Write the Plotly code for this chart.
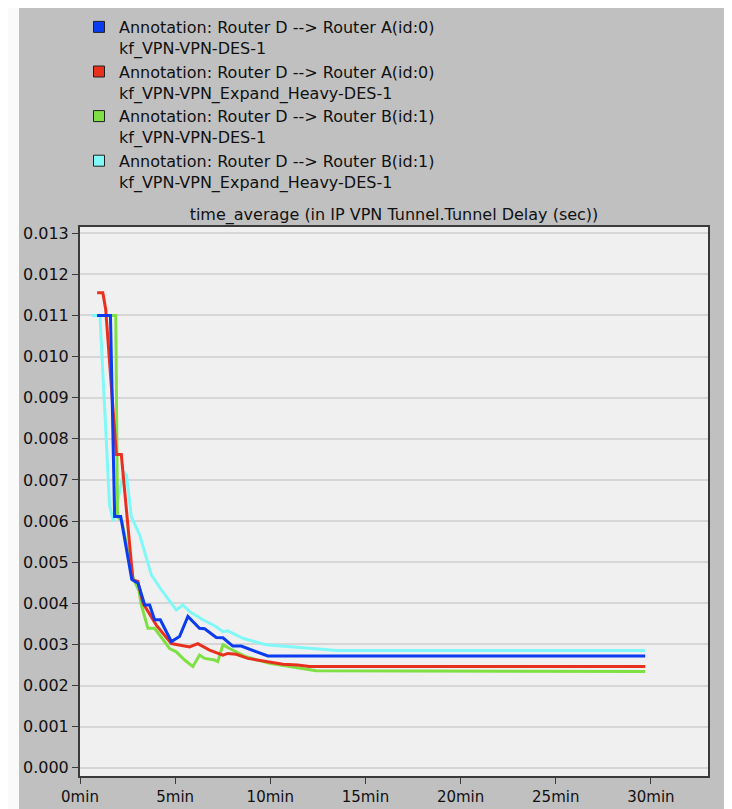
import plotly.graph_objects as go

# ---------------- data ----------------
legend_names = [
    "Annotation: Router D --> Router A(id:0)<br>kf_VPN-VPN-DES-1",
    "Annotation: Router D --> Router A(id:0)<br>kf_VPN-VPN_Expand_Heavy-DES-1",
    "Annotation: Router D --> Router B(id:1)<br>kf_VPN-VPN-DES-1",
    "Annotation: Router D --> Router B(id:1)<br>kf_VPN-VPN_Expand_Heavy-DES-1",
]
colors = ["#0b3cf0", "#e8301e", "#7fe044", "#80f8f8"]

blue_x = [0.9, 1.6, 1.82, 2.14, 2.72, 3.05, 3.40, 3.66, 3.92, 4.22, 4.80, 5.23, 5.67,
          6.28, 6.55, 7.16, 7.51, 8.03, 8.47, 9.08, 9.87, 29.7]
blue_y = [0.0110, 0.0110, 0.00611, 0.00611, 0.00458, 0.00449, 0.00396, 0.00396, 0.00360,
          0.00360, 0.00307, 0.00319, 0.00368, 0.00339, 0.00338, 0.00317, 0.00316, 0.00296,
          0.00296, 0.00286, 0.00272, 0.00272]

red_x = [0.9, 1.2, 1.35, 1.91, 2.17, 2.78, 3.04, 3.31, 4.01, 4.80, 5.76, 6.19, 6.81, 7.51,
         7.77, 8.21, 8.82, 9.78, 10.66, 11.44, 12.06, 29.7]
red_y = [0.01155, 0.01155, 0.01115, 0.00762, 0.00762, 0.00457, 0.00453, 0.00400, 0.00347,
         0.00302, 0.00294, 0.00302, 0.00286, 0.00274, 0.00278, 0.00276, 0.00266, 0.00258,
         0.00252, 0.00250, 0.00246, 0.00246]

green_x = [0.9, 1.88, 1.97, 2.2, 2.8, 3.1, 3.22, 3.57, 3.92, 4.71, 5.06, 5.5, 5.93, 6.28,
           6.55, 7.07, 7.24, 7.51, 7.86, 8.73, 9.96, 11.0, 12.4, 29.7]
green_y = [0.0110, 0.0110, 0.0061, 0.0060, 0.0046, 0.0043, 0.00396, 0.00339, 0.00339,
           0.00290, 0.00282, 0.00262, 0.00246, 0.00274, 0.00266, 0.00262, 0.00258, 0.00299,
           0.00290, 0.00270, 0.00254, 0.00246, 0.00236, 0.00234]

cyan_x = [0.62, 1.05, 1.55, 1.75, 2.3, 2.45, 2.70, 3.13, 3.75, 4.27, 5.06, 5.41, 5.76, 6.46,
          7.16, 7.51, 7.77, 8.56, 9.78, 11.36, 12.76, 13.5, 29.7]
cyan_y = [0.0110, 0.0110, 0.0064, 0.0060, 0.0072, 0.0071, 0.0061, 0.00567, 0.00469, 0.00433,
          0.00384, 0.00396, 0.00380, 0.00360, 0.00343, 0.00331, 0.00333, 0.00315, 0.00299,
          0.00293, 0.00288, 0.00285, 0.00285]

x_tick_vals = [0, 5, 10, 15, 20, 25, 30]
x_tick_text = ["0min", "5min", "10min", "15min", "20min", "25min", "30min"]
y_tick_vals = [0.000, 0.001, 0.002, 0.003, 0.004, 0.005, 0.006, 0.007, 0.008, 0.009,
               0.010, 0.011, 0.012, 0.013]

title_text = "time_average (in IP VPN Tunnel.Tunnel Delay (sec))"

# ---------------- figure ----------------
# the page body has an 8px margin, so the figure is drawn 8px in from the top-left
OFF = 8
W, H = 732 - OFF, 809 - OFF
L, R, T, B = 80 - OFF, 24, 227 - OFF, 33
FONT = "DejaVu Sans"

fig = go.Figure()

series = [(cyan_x, cyan_y, colors[3]), (green_x, green_y, colors[2]),
          (red_x, red_y, colors[1]), (blue_x, blue_y, colors[0])]
for xs, ys, c in series:
    fig.add_trace(go.Scatter(x=xs, y=ys, mode="lines", showlegend=False,
                             line=dict(color=c, width=3), hoverinfo="skip"))

for name, c in zip(legend_names, colors):
    fig.add_trace(go.Scatter(x=[None], y=[None], mode="markers", name=name,
                             marker=dict(symbol="square", size=11, color=c,
                                         line=dict(color="#202020", width=1))))

pw = W - L - R
ph = H - T - B
def px_x(p):
    return (p - L) / pw
def px_y(p):
    return (H - B - p) / ph

shapes = [
    dict(type="rect", xref="paper", yref="paper", layer="below",
         x0=px_x(19 - OFF), x1=px_x(W + 2), y0=px_y(H + 2), y1=px_y(-2),
         fillcolor="#c0c0c0", line=dict(width=0)),
    dict(type="rect", xref="paper", yref="paper", layer="below",
         x0=0, x1=1, y0=0, y1=1, fillcolor="#f0f0f0", line=dict(width=0)),
]

fig.update_layout(
    width=W, height=H,
    margin=dict(l=L, r=R, t=T, b=B, autoexpand=False),
    paper_bgcolor="#fafafa",
    plot_bgcolor="#f0f0f0",
    font=dict(family=FONT, size=15, color="#111111"),
    shapes=shapes,
    title=dict(text=title_text, x=0.5, xref="paper", xanchor="center",
               y=1 - (214 - OFF) / H, yref="container", yanchor="middle",
               font=dict(family=FONT, size=16, color="#111111")),
    legend=dict(x=(79 - OFF) / W, xref="container", xanchor="left",
                y=1 - 2 / H, yref="container", yanchor="top",
                bgcolor="rgba(0,0,0,0)", valign="top",
                font=dict(family=FONT, size=16, color="#111111"),
                tracegroupgap=0, itemwidth=30),
    xaxis=dict(range=[0, 33], tickvals=x_tick_vals, ticktext=x_tick_text,
               tickangle=0,
               showgrid=False, zeroline=False, showline=True, mirror=True,
               linecolor="#3a3a3a", linewidth=2, ticks="outside", ticklen=6,
               tickcolor="#3a3a3a", tickwidth=1,
               tickfont=dict(family=FONT, size=15, color="#111111")),
    yaxis=dict(range=[-0.0002, 0.01315], tickvals=y_tick_vals, tickformat=".3f",
               showgrid=True, gridcolor="#d6d6d6", gridwidth=2, zeroline=False,
               showline=True, mirror=True, linecolor="#3a3a3a", linewidth=2,
               ticks="outside", ticklen=6, tickcolor="#3a3a3a", tickwidth=1,
               tickfont=dict(family=FONT, size=16, color="#111111")),
)

fig.write_html("out.html")
